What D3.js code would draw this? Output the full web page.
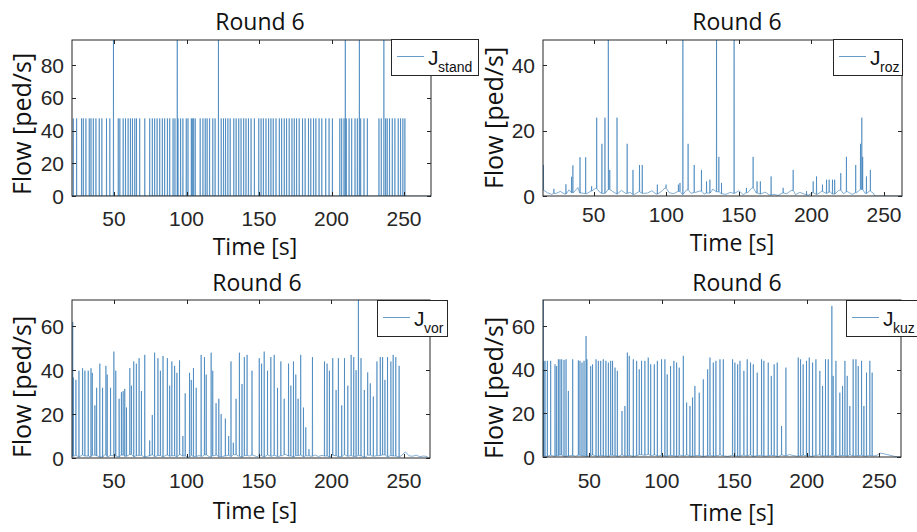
<!DOCTYPE html>
<html>
<head>
<meta charset="utf-8">
<title>Round 6</title>
<script src="https://d3js.org/d3.v7.min.js"></script>
<style>
  body { margin: 0; background: #fff; }
  .tick-label { font-family: 'Liberation Sans', Arial, sans-serif; font-size: 21px; fill: #262626; }
  .title, .axis-label { font-family: 'Open Sans', 'Segoe UI', sans-serif; fill: #111; }
  .leg { font-family: 'Liberation Sans', Arial, sans-serif; fill: #111; }
</style>
</head>
<body>
<svg id="chart" width="917" height="532"></svg>
<script>
// ---- data ----
const xTicks = [50, 100, 150, 200, 250];
const titleText = "Round 6";
const xLabel = "Time [s]";
const yLabel = "Flow [ped/s]";

// J_stand: pulses from 0 up to 47.5, a few that hit the top
const standLevel = 47.5;
const standPulseT = [21.9, 24.2, 27.6, 28.8, 30.6, 32.9, 34.1, 35.7, 37.5, 39.8, 41.6, 44.8, 47.1, 52.9, 54, 56.3,
  57.9, 59.7, 61.3, 62.7, 64.3, 65.5, 67.7, 71.2, 74.6, 76.4, 78, 79.7, 81.5, 83.3, 84.9, 86.8, 88.4, 90.7, 92,
  94.1, 95.9, 97.5, 99.8, 101, 103.3, 104, 104.9, 106, 109.4, 111.3, 112.9, 114.2, 115.9, 118.1, 119.7, 123.9,
  125.5, 126.9, 128.5, 130.1, 132.6, 134.2, 136, 137.6, 139.4, 141, 142.7, 144.5, 146.8, 149.8, 151.4, 153,
  154.8, 156.6, 158.2, 159.8, 161.7, 164, 165.6, 167.4, 169, 170.8, 172.7, 174.3, 175.9, 177.7, 180, 181.8,
  184.1, 185.7, 187.6, 189.2, 191.4, 193.3, 196, 198.3, 200.6, 205.7, 207, 208.6, 210.2, 212.1, 213.9, 216.2,
  217.8, 220.1, 222.4, 224.7, 232.7, 234.3, 237.3, 238.4, 240, 241.9, 243.7, 246, 247.6, 249.2, 250.6];
const standTop = 95.5;
const standTallT = [49.6, 93.6, 122, 209.5, 219.2, 236.1];
const standBase = [0, 0];

// J_roz
const rozT = [15.3, 22.5, 30.8, 34.7, 35.6, 40.5, 44.4, 48.5, 52, 55.6, 57.7, 60, 61, 66, 73, 77, 81.5, 83.4,
  93.8, 99.8, 108.3, 109.4, 111.4, 115, 119.2, 124.2, 127.7, 130, 134.6, 136.2, 138, 146.7, 155.2, 159.8, 162.5,
  164.8, 172.2, 180.5, 187.4, 196.6, 201.2, 203.5, 207.6, 210.4, 212.2, 214.5, 216, 220.2, 224.1, 230.5, 233.8,
  234.7, 235.3, 237.9, 240.6];
const rozV = [9.5, 2.2, 3.6, 5.9, 9.4, 11.9, 11.9, 3, 24, 16, 24, 48, 8, 24, 16, 8, 9.5, 9.5,
  3.5, 3.5, 3.5, 4, 48, 16, 9.5, 8, 4.5, 5, 48, 12, 4, 48, 2.5, 12, 4.5,
  4.5, 6, 2.5, 8, 1.5, 4.5, 6, 3.5, 5, 5, 5, 5, 7, 12, 9.5, 16,
  24, 12, 6, 8];
const rozBase = [1.8, 1.0, 0.5, 0.8, 1.4, 0.6, 1.9, 1.0, 2.6, 0.9, 0.7, 1.5, 2.3, 1.2, 0.8, 2.0, 1.4, 0.6, 1.7, 0.8,
  1.1, 0.5, 1.3, 0.8, 0.9, 1.6, 0.6, 1.2, 2.4, 1.0, 0.7, 1.4, 0.5, 1.9, 0.8, 1.1, 1.5, 0.6, 0.9, 2.1,
  1.3, 0.7, 0.5, 1.1, 0.8, 1.6, 0.4, 1.0, 2.5, 0.9, 0.6, 1.2, 0.3, 0.5, 0.2, 0.9, 0.7, 1.7, 0.4, 1.1,
  0.6, 0.3, 1.0, 0.5, 1.4, 0.8, 1.2, 0.6, 1.8, 0.7, 1.3, 0.5, 1.0, 2.0, 0.8, 1.5, 0.7];

// J_vor
const vorT = [21.5, 21.9, 23.7, 25.8, 28.3, 29.9, 32.2, 34.1, 35, 36.8, 38, 40.2, 42.1, 44.4, 45.3, 47.6, 49.9,
  51.2, 53.5, 55.1, 56.3, 57.4, 58.6, 60.9, 62, 63.6, 65.4, 67.3, 68.9, 71.2, 74.6, 76.4, 78, 80.3, 82, 83.8,
  86.8, 88.4, 89.9, 91.8, 93.4, 95.2, 97.5, 99.1, 102.1, 103.3, 104.8, 106.7, 110.1, 112.4, 113.6, 117, 118.1,
  120.4, 122.3, 123.9, 126.8, 129.1, 130.7, 132.3, 134.2, 136.5, 138.3, 139.9, 141.8, 145.2, 150.2, 151.8,
  153.6, 155.9, 158.2, 160.5, 162.8, 165.1, 167.4, 170.4, 172, 173.8, 175.4, 177, 178.8, 180.7, 182.3, 184.5,
  186.9, 195.2, 197, 198.6, 200.9, 203.2, 204.8, 207.1, 209, 211.3, 213.6, 215.4, 217, 218.6, 220.4, 222.7,
  225, 226.8, 228.9, 231.4, 233.7, 235.3, 236.9, 238.7, 241, 242.6, 244.4, 246.7];
const vorV = [62, 36.7, 35.6, 39.8, 40.9, 39.8, 39.8, 40.9, 38.8, 24, 32, 43, 32, 42, 38, 32, 48.5,
  39.8, 27, 30, 30.5, 31.5, 23, 41, 33, 44, 43, 45.5, 30.5, 47, 8, 19.6, 48, 45.5, 39.8, 46.5,
  45.5, 33, 44, 42, 38.8, 44.5, 10, 29.5, 38.8, 35.6, 41, 32, 47, 46, 38, 48, 39.8,
  25, 27, 20, 18, 10, 44, 7, 27, 48, 33.7, 46, 47, 39.8, 45.5, 43,
  48.5, 39.8, 46, 47, 32, 44, 27, 43, 33, 44, 38, 27, 47, 23, 14, 4,
  46, 44, 43, 39.8, 45.5, 31, 45.5, 24, 45.5, 33, 47, 46, 40, 75, 45.5, 31,
  39, 34, 28, 44, 46, 46, 35.6, 46, 44, 47, 46, 42];
const vorBase = [0.8, 1.2, 0.5, 1.4, 0.9, 0.6, 1.3, 1.0, 0.4, 1.5, 0.7, 1.1, 0.9, 0.5, 1.3, 0.8, 1.6, 0.6, 1.0, 1.2,
  0.4, 0.9, 1.4, 0.7, 1.1, 0.5, 1.3, 0.8, 1.0, 0.6, 1.5, 0.9, 0.4, 1.2, 0.7, 1.1, 0.8, 1.4, 0.5, 1.0,
  1.3, 0.6, 0.9, 1.2, 0.7, 1.5, 0.8, 0.4, 1.1, 0.9, 1.3, 0.6, 1.0, 0.5, 1.4, 0.8, 1.2, 0.7, 1.0, 1.6,
  0.9, 0.5, 1.1, 1.3, 0.6, 1.0, 0.8, 1.4, 0.7, 1.2, 0.9, 0.5, 1.3, 1.0, 0.6, 1.5, 0.8, 1.1, 0.7, 1.2,
  0.9, 0.4, 1.3, 0.8, 1.0, 1.1, 1.4, 0.6, 1.1, 0.9, 0.5, 1.2, 2.8, 1.0, 0.8, 1.3, 0.6, 0.9, 0.7];

// J_kuz
const kuzT = [18.2, 18.5, 19.4, 21, 23.3, 26.3, 27.4, 28.6, 29.7, 30.9, 32.5, 33.9, 35.5, 38.5, 42.4, 43.5, 44.9,
  46.3, 47.7, 48.3, 50.9, 52.2, 54.6, 56.2, 57.8, 59.6, 61.4, 63.1, 64.7, 66, 67.7, 69.3, 72.5, 74.5, 76.2,
  77.5, 80.3, 82.6, 84.4, 86, 88.3, 90.6, 92.3, 94.8, 96.9, 99.8, 102.1, 103.7, 106, 108.3, 110.2, 112, 114.8,
  117.1, 119.4, 121.2, 122.8, 125.8, 128.6, 131.6, 133.2, 135.5, 137.3, 140.1, 142.4, 148.8, 150.4, 152.3,
  153.9, 156.6, 158.9, 161.2, 163.1, 165.8, 168.8, 170.4, 173.4, 175.5, 177.5, 179.6, 182.6, 185.6, 194.1,
  195.7, 197.5, 199.8, 201.7, 204, 206.3, 209, 210.9, 212.9, 214.8, 217.3, 218.2, 220.1, 222.8, 224.7, 226.3,
  227.9, 229.7, 232, 233.9, 235.5, 237.8, 239.4, 241.2, 243.5, 245.1];
const kuzV = [72, 44, 44.1, 44.1, 44.1, 42.5, 41.7, 44.8, 44.8, 44.8, 44.5, 44.8, 30.3, 44.8, 44.3, 44.1, 43.3,
  44.1, 55.5, 44.8, 41.7, 42.5, 44.8, 44.1, 44.1, 44.8, 44.1, 43.3, 44.1, 44.1, 41, 39.5, 21.1, 23.4, 47.9,
  46.4, 44.8, 44.1, 40.2, 44.1, 44.1, 45.6, 42.5, 42.5, 44.1, 44.8, 44.8, 37.9, 41.7, 44.1, 43.3, 41, 46.4,
  25, 23.4, 27.3, 32.6, 29.5, 35.6, 40.2, 45.6, 43.3, 44.1, 44.8, 44.8, 44.8, 43.3, 42.5,
  44.1, 39.5, 44.8, 43.3, 42.5, 38.7, 44.8, 44.1, 43.3, 37.2, 42.5, 43.3, 14.2, 41, 45.6,
  44.8, 42.5, 44.1, 45.6, 43.3, 44.8, 39.5, 32.6, 44.8, 44.8, 69.3, 37.2, 44.1, 29.5, 32.6, 44.1,
  37.2, 23.4, 44.8, 44.8, 41.7, 44.1, 23.4, 38.7, 44.1, 38.7];
const kuzBase = [0.5, 0.3, 0.8, 0.4, 0.6, 0.9, 0.3, 0.5, 0.7, 0.4, 0.8, 0.5, 0.3, 0.6, 0.9, 0.4, 0.7, 0.5, 0.3, 0.8,
  0.6, 0.4, 0.9, 0.5, 0.7, 0.3, 0.6, 1.0, 0.8, 1.2, 0.7, 0.9, 0.5, 0.8, 0.4, 0.7, 0.6, 0.3, 0.8, 0.5,
  0.9, 0.4, 0.6, 0.7, 0.3, 0.5, 0.8, 0.4, 0.6, 0.9, 0.5, 0.3, 0.7, 0.6, 0.4, 0.8, 0.5, 0.9, 0.3, 0.6,
  0.7, 0.4, 0.5, 0.8, 0.6, 0.3, 0.9, 0.5, 1.1, 0.7, 0.4, 0.6, 0.8, 0.5, 0.3, 0.7, 0.9, 0.4, 0.6, 0.5,
  0.8, 0.3, 0.6, 0.7, 0.4, 0.9, 0.5, 0.6, 0.8, 0.4, 0.7, 0.5, 0.6,
  1.8, 1.5, 1.1, 0.7, 0.3, 0.0, 0.0];

// ---- helpers ----
const lineColor = "#1f6eb0";
const axisColor = "#262626";

// baseline samples at start + i*step, spikes inserted as rise/fall pairs
function buildSeries(start, step, base, spikeT, spikeV, tEnd) {
  const pts = base.map((v, i) => [start + i * step, v]);
  const baseEnd = start + (base.length - 1) * step;
  const near = t => {
    if (t > baseEnd) return 0;
    const i = Math.max(0, Math.min(base.length - 1, Math.round((t - start) / step)));
    return base[i];
  };
  spikeT.forEach((t, i) => {
    if (i >= spikeV.length) return;
    const b = near(t);
    pts.push([t - 0.12, b], [t, spikeV[i]], [t + 0.12, b]);
  });
  if (baseEnd < tEnd) pts.push([baseEnd + 0.5, 0], [tEnd, 0]);
  return pts.sort((a, b) => a[0] - b[0]);
}

const standSpikes = standPulseT.map(t => [t, standLevel]).concat(standTallT.map(t => [t, standTop]))
  .sort((a, b) => a[0] - b[0]);

const panels = [
  { key: "stand", box: [72, 40, 431, 196], xDom: [21, 268.6], yDom: [0, 95.5], yTicks: [0, 20, 40, 60, 80],
    title: [260, 30], xLab: [255, 255], xTickY: 226, yLab: [31, 124], leg: [391, 39, 87, 36],
    data: buildSeries(21, 247.6, standBase, standSpikes.map(d => d[0]), standSpikes.map(d => d[1]), 268.6) },
  { key: "roz", box: [543, 40, 902, 196], xDom: [15, 262.4], yDom: [0, 47.8], yTicks: [0, 20, 40],
    title: [737, 30], xLab: [732, 251], xTickY: 222, yLab: [503, 118], leg: [833, 39, 69, 36],
    data: buildSeries(15, 3, rozBase, rozT, rozV, 262.4) },
  { key: "vor", box: [72, 300, 430, 458], xDom: [21, 268], yDom: [0, 72], yTicks: [0, 20, 40, 60],
    title: [257, 291], xLab: [255, 519], xTickY: 488, yLab: [31, 387], leg: [377, 300, 70, 36],
    data: buildSeries(21, 2.5, vorBase, vorT, vorV, 268) },
  { key: "kuz", box: [543, 300, 901, 457], xDom: [18, 265], yDom: [0, 72], yTicks: [0, 20, 40, 60],
    title: [737, 291], xLab: [732, 521], xTickY: 488, yLab: [503, 388], leg: [846, 300, 75, 36],
    data: buildSeries(18, 2.5, kuzBase, kuzT, kuzV, 265) }
];

const svg = d3.select("#chart");
const defs = svg.append("defs");

panels.forEach((p, idx) => {
  const [x0, y0, x1, y1] = p.box;
  const x = d3.scaleLinear().domain(p.xDom).range([x0, x1]);
  const y = d3.scaleLinear().domain(p.yDom).range([y1, y0]);
  const g = svg.append("g");

  defs.append("clipPath").attr("id", "clip" + idx)
    .append("rect").attr("x", x0).attr("y", y0).attr("width", x1 - x0).attr("height", y1 - y0);

  // data line
  const line = d3.line().x(d => x(d[0])).y(d => y(d[1]));
  g.append("path")
    .datum(p.data)
    .attr("clip-path", "url(#clip" + idx + ")")
    .attr("fill", "none")
    .attr("stroke", lineColor)
    .attr("stroke-opacity", 0.85)
    .attr("stroke-width", 0.65)
    .attr("d", line);

  // box
  g.append("rect").attr("x", x0).attr("y", y0).attr("width", x1 - x0).attr("height", y1 - y0)
    .attr("fill", "none").attr("stroke", axisColor).attr("stroke-width", 1);

  // ticks (inside, on all four sides)
  const tk = 4;
  xTicks.forEach(t => {
    const px = Math.round(x(t)) + 0.5;
    g.append("line").attr("x1", px).attr("x2", px).attr("y1", y1).attr("y2", y1 - tk).attr("stroke", axisColor);
    g.append("line").attr("x1", px).attr("x2", px).attr("y1", y0).attr("y2", y0 + tk).attr("stroke", axisColor);
    g.append("text").attr("class", "tick-label").attr("x", x(t)).attr("y", p.xTickY)
      .attr("text-anchor", "middle").text(t);
  });
  p.yTicks.forEach(t => {
    const py = Math.round(y(t)) + 0.5;
    g.append("line").attr("x1", x0).attr("x2", x0 + tk).attr("y1", py).attr("y2", py).attr("stroke", axisColor);
    g.append("line").attr("x1", x1).attr("x2", x1 - tk).attr("y1", py).attr("y2", py).attr("stroke", axisColor);
    g.append("text").attr("class", "tick-label").attr("x", x0 - 8).attr("y", y(t) + 7.5)
      .attr("text-anchor", "end").text(t);
  });

  // title and labels
  g.append("text").attr("class", "title").attr("x", p.title[0]).attr("y", p.title[1])
    .attr("text-anchor", "middle").style("font-size", "23px").text(titleText);
  g.append("text").attr("class", "axis-label").attr("x", p.xLab[0]).attr("y", p.xLab[1])
    .attr("text-anchor", "middle").style("font-size", "23px").text(xLabel);
  g.append("text").attr("class", "axis-label")
    .attr("transform", `translate(${p.yLab[0]},${p.yLab[1]}) rotate(-90)`)
    .attr("text-anchor", "middle").style("font-size", "25px").text(yLabel);

  // legend
  const [lx, ly, lw, lh] = p.leg;
  g.append("rect").attr("x", lx + 0.5).attr("y", ly + 0.5).attr("width", lw).attr("height", lh)
    .attr("fill", "#fff").attr("stroke", axisColor).attr("stroke-width", 1);
  g.append("line").attr("x1", lx + 6).attr("x2", lx + 33).attr("y1", ly + 17.5).attr("y2", ly + 17.5)
    .attr("stroke", lineColor).attr("stroke-opacity", 0.85).attr("stroke-width", 0.8);
  g.append("text").attr("class", "leg").attr("x", lx + 37).attr("y", ly + 26)
    .style("font-size", "21px").text("J");
  g.append("text").attr("class", "leg").attr("x", lx + 47).attr("y", ly + 33)
    .style("font-size", "14px").text(p.key);
});
</script>
</body>
</html>
